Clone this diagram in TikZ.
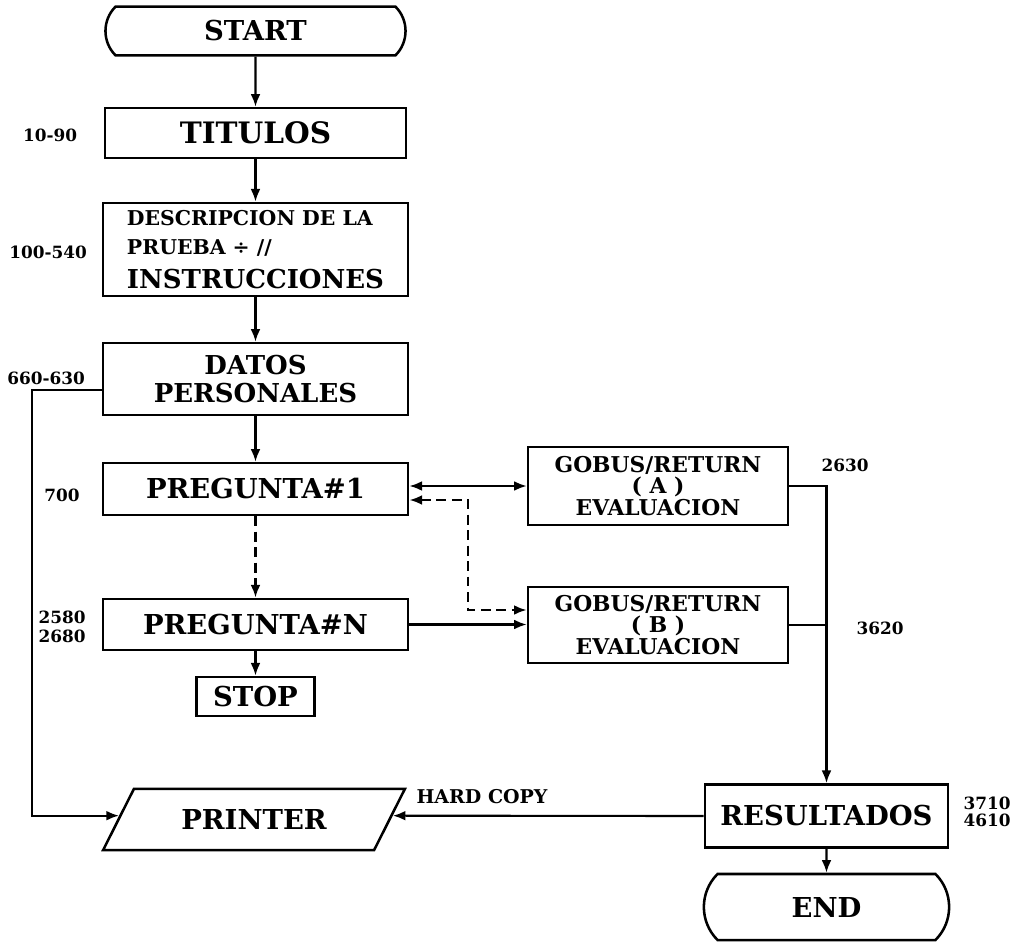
\documentclass[tikz,border=0pt]{standalone}
\usepackage{fontspec}
\setmainfont{DejaVu Serif}
\usepackage{tikz}
\usetikzlibrary{positioning,shapes.geometric,shapes.misc,arrows.meta,calc}

\newcommand{\fbig}{\fontsize{19.5}{21}\selectfont}
\newcommand{\fmid}{\fontsize{15.5}{15}\selectfont}
\newcommand{\fsml}{\fontsize{14.5}{13.5}\selectfont}

\begin{document}
\begin{tikzpicture}[x=0.025cm,y=-0.025cm,font=\bfseries,
  >={Latex[length=9pt,width=7pt]},
  box/.style={draw,line width=1.8pt,inner sep=0pt,align=center,font=\bfseries\fbig},
  term/.style={box,rounded rectangle,rounded rectangle arc length=90},
  io/.style={box,trapezium,trapezium left angle=47,trapezium right angle=133,trapezium stretches=true},
  line/.style={line width=1.5pt},
  dline/.style={line width=1.7pt,dash pattern=on 7pt off 4pt},
  lnum/.style={font=\bfseries\fontsize{12}{14}\selectfont,align=center}]
\useasboundingbox (0,0) rectangle (1015,947);

\node[term,minimum width=7.5cm,minimum height=1.22cm] (start) at (255.5,31) {START};
\node[box,minimum width=7.53cm,minimum height=1.25cm,font=\bfseries\fontsize{21}{22}\selectfont] (tit) at (255.5,133) {TITULOS};
\node[box,minimum width=7.63cm,minimum height=2.33cm,align=left] (desc) at (255.5,249.5)
  {{\fsml DESCRIPCION DE LA}\\{\fsml PRUEBA ÷ //}\\[3pt]{\fontsize{18.5}{20}\selectfont INSTRUCCIONES}};
\node[box,minimum width=7.63cm,minimum height=1.8cm,font=\bfseries\fontsize{18.5}{20}\selectfont] (dat) at (255.5,379) {DATOS\\PERSONALES};
\node[box,minimum width=7.63cm,minimum height=1.3cm] (p1) at (255.5,489) {PREGUNTA\#1};
\node[box,minimum width=7.63cm,minimum height=1.28cm] (pn) at (255.5,624.5) {PREGUNTA\#N};
\node[box,minimum width=2.95cm,minimum height=0.98cm] (stop) at (255.5,696.5) {STOP};
\node[box,minimum width=6.5cm,minimum height=1.95cm,font=\bfseries\fmid] (ga) at (658,486) {GOBUS/RETURN\\( A )\\EVALUACION};
\node[box,minimum width=6.5cm,minimum height=1.9cm,font=\bfseries\fmid] (gb) at (658,625) {GOBUS/RETURN\\( B )\\EVALUACION};
\node[io,minimum width=7.55cm,minimum height=1.53cm] (prn) at (254,819.5) {PRINTER};
\node[box,minimum width=6.08cm,minimum height=1.58cm] (res) at (826.5,816) {RESULTADOS};
\node[term,minimum width=6.13cm,minimum height=1.65cm] (end) at (826.5,907) {END};

\node[lnum] (n10) at (50,135) {10-90};
\node[lnum] (n100) at (48,252) {100-540};
\node[lnum] (n660) at (46,378) {660-630};
\node[lnum] (n700) at (62,495) {700};
\node[lnum] (n2580) at (62,627) {2580\\2680};
\node[lnum] (n2630) at (845,465) {2630};
\node[lnum] (n3620) at (880,628) {3620};
\node[lnum,font=\bfseries\fontsize{12}{12}\selectfont] (n3710) at (987,812) {3710\\4610};
\node[font=\bfseries\fontsize{13.5}{14}\selectfont] (hard) at (482,797) {HARD COPY};

\draw[line,->] (start) -- (tit);
\draw[line,->] (tit) -- (desc);
\draw[line,->] (desc) -- (dat);
\draw[line,->] (dat) -- (p1);
\draw[dline,->] (p1) -- (pn);
\draw[line,->] (pn) -- (stop);

\coordinate (lt) at (32,390);
\coordinate (pl) at ($(prn.bottom left corner)!0.56!(prn.top left corner)$);
\coordinate (pr) at ($(prn.bottom right corner)!0.56!(prn.top right corner)$);
\draw[line,->] (dat.west |- lt) -- (lt) |- (pl);

\draw[line,<->] (p1.east |- ga.west) -- (ga.west);
\coordinate (dt) at (468,500);
\coordinate (db) at (468,610);
\draw[dline,<->] (p1.east |- dt) -- (dt) -- (db) -- (gb.west |- db);
\draw[line,->] (pn.east) -- (gb.west |- pn.east);
\draw[line,->] (ga.east) -| (res.north);
\draw[line] (gb.east) -- (gb.east -| res.north);
\draw[line,->] (res.west) -- (pr);
\draw[line,->] (res) -- (end);
\end{tikzpicture}
\end{document}
